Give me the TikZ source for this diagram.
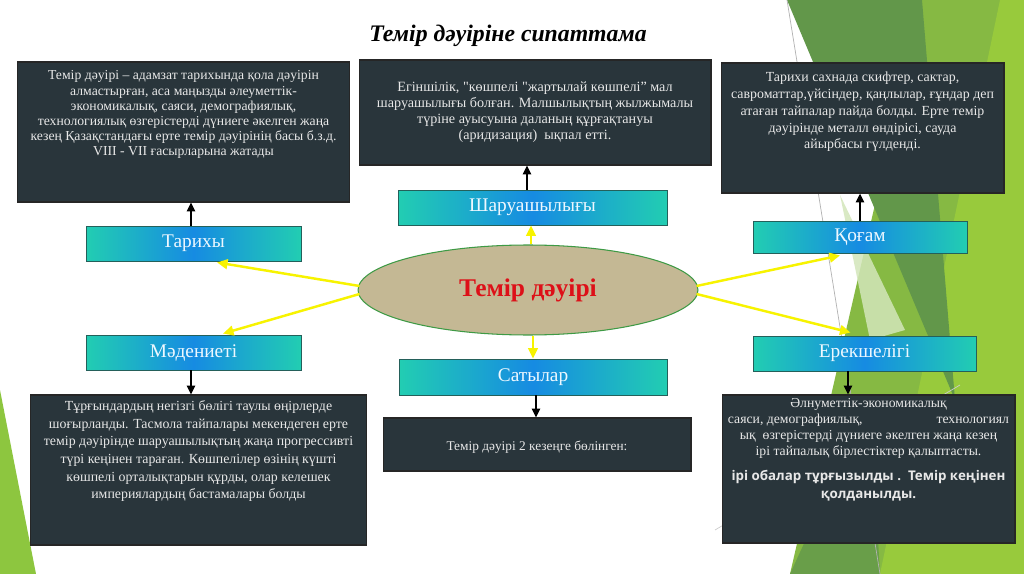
\documentclass[tikz,border=0pt]{standalone}
\usepackage{fontspec}
\setmainfont{Liberation Serif}
\newfontfamily\rawserif{Liberation Serif}
\newfontfamily\osans{Open Sans}
\usetikzlibrary{arrows.meta,calc,shapes.geometric}
\definecolor{boxdark}{HTML}{29353B}
\definecolor{boxtxt}{HTML}{E8E8E8}
\definecolor{tealc}{HTML}{22CDB2}
\definecolor{bluec}{HTML}{168BE2}
\definecolor{cyanborder}{HTML}{24605A}
\definecolor{cyantxt}{HTML}{EEF8FF}
\definecolor{ellfill}{HTML}{C4B894}
\definecolor{ellborder}{HTML}{3E9A45}
\definecolor{redtxt}{HTML}{DD1018}
\definecolor{yel}{HTML}{F7F300}
\definecolor{gdark}{HTML}{62974A}
\definecolor{gmid}{HTML}{86B943}
\definecolor{gbright}{HTML}{98CA3C}
\definecolor{gpale}{HTML}{D3E6BA}
\definecolor{gleft}{HTML}{8DC63F}
\tikzset{
  darkbox/.style={draw=black!85, line width=0.6pt, fill=boxdark, inner sep=0pt},
  boxtext/.style={text=boxtxt, align=center, inner sep=0pt},
  cyanbox/.style={draw=cyanborder, line width=0.5pt, left color=tealc, right color=tealc, middle color=bluec,
    text=cyantxt, font=\fontsize{11}{13}\selectfont, inner sep=0pt},
  blackarrow/.style={draw=black, line width=1.2pt, -{Triangle[length=5pt,width=4.5pt]}},
  yelarrow/.style={draw=yel, line width=1.4pt, -{Triangle[length=6pt,width=5.5pt]}},
}
\begin{document}
\begin{tikzpicture}[x=0.02cm,y=-0.02cm]
\useasboundingbox (0,0) rectangle (1024,574);
\fill[white] (0,0) rectangle (1024,574);
% background decoration
\fill[gmid] (922,0) -- (1024,0) -- (1024,574) -- (790,574) -- cycle;
\fill[gbright] (1000,0) -- (1024,0) -- (1024,574) -- (880,574) -- cycle;
\fill[gdark] (787,0) -- (922,0) -- (955,400) -- cycle;
\fill[gpale, opacity=0.85] (840,195) -- (905,330) -- (870,340) -- cycle;
\fill[gdark!80!gmid] (790,574) -- (870,400) -- (880,574) -- cycle;
\draw[black!30, line width=0.4pt] (787,0) -- (880,574);
\draw[black!20, line width=0.4pt] (715,530) -- (960,385);
\fill[gleft] (0,390) -- (0,574) -- (36,574) -- cycle;
% title
\node[font=\fontsize{13.5}{16}\selectfont\bfseries\itshape] (title) at (508,36) {Темір дәуіріне сипаттама};
% dark boxes
\node[darkbox, minimum width=6.66cm, minimum height=2.8cm] (tl) at (183.5,132) {};
\node[boxtext, anchor=north, font=\fontsize{7.8}{8.6}\selectfont] (tlt) at ($(tl.north)+(0,9)$)
 {Темір дәуірі – адамзат тарихында қола дәуірін\\алмастырған, аса маңызды әлеуметтік-\\экономикалық, саяси, демографиялық,\\технологиялық өзгерістерді дүниеге әкелген жаңа\\кезең Қазақстандағы ерте темір дәуірінің басы б.з.д.\\VIII - VII ғасырларына жатады};
\node[darkbox, minimum width=7.04cm, minimum height=2.1cm] (tm) at (535,112.5) {};
\node[boxtext, font=\rawserif\fontsize{8.05}{9.1}\selectfont] (tmt) at (tm.center)
 {Егіншілік, "көшпелі "жартылай көшпелі” мал\\шаруашылығы болған. Малшылықтың жылжымалы\\түріне ауысуына даланың құрғақтануы\\(аридизация)\ \ ықпал етті.};
\node[darkbox, minimum width=5.66cm, minimum height=2.6cm] (tr) at (862.5,128) {};
\node[boxtext, anchor=north, font=\fontsize{7.9}{9.6}\selectfont] (trt) at ($(tr.north)+(0,9)$)
 {Тарихи сахнада скифтер, сактар,\\савроматтар,үйсіндер, қаңлылар, ғұндар деп\\атаған тайпалар пайда болды. Ерте темір\\дәуірінде металл өндірісі, сауда\\айырбасы гүлденді.};
\node[darkbox, minimum width=6.74cm, minimum height=3.0cm] (bl) at (198.5,470) {};
\node[boxtext, anchor=north, font=\fontsize{7.9}{10}\selectfont] (blt) at ($(bl.north)+(0,6)$)
 {Тұрғындардың негізгі бөлігі таулы өңірлерде\\шоғырланды. Тасмола тайпалары мекендеген ерте\\темір дәуірінде шаруашылықтың жаңа прогрессивті\\түрі кеңінен тараған. Көшпелілер өзінің күшті\\көшпелі орталықтарын құрды, олар келешек\\империялардың бастамалары болды};
\node[darkbox, minimum width=6.16cm, minimum height=1.06cm] (bm) at (537,444.5) {};
\node[boxtext, font=\fontsize{7.6}{8.5}\selectfont] (bmt) at ($(bm.center)+(0,3)$) {Темір дәуірі 2 кезеңге бөлінген:};
\node[darkbox, minimum width=5.86cm, minimum height=2.96cm] (br) at (868.5,469) {};
\node[boxtext, anchor=north, font=\fontsize{7.8}{9.1}\selectfont] (brt) at ($(br.north)+(0,4)$)
 {Әлнуметтік-экономикалық\\\hbox to 160pt{саяси, демографиялық,\hfill технологиял}\\ық\ \ өзгерістерді дүниеге әкелген жаңа кезең\\ірі тайпалық бірлестіктер қалыптасты.\\[5pt]
 {\osans\bfseries\fontsize{7.6}{9.6}\selectfont ірі обалар тұрғызылды .\ \ Темір кеңінен}\\[1pt]
 {\osans\bfseries\fontsize{7.6}{9.6}\selectfont қолданылды.}};
% cyan boxes
\node[cyanbox, minimum width=4.3cm, minimum height=0.7cm] (tar) at (193.5,243.5) {Тарихы};
\node[cyanbox, minimum width=4.3cm, minimum height=0.7cm] (mad) at (193.5,352.5) {Мәдениеті};
\node[cyanbox, minimum width=5.38cm, minimum height=0.7cm] (sha) at (532.5,207.5) {Шаруашылығы};
\node[cyanbox, minimum width=5.36cm, minimum height=0.72cm] (sat) at (533,377) {Сатылар};
\node[cyanbox, minimum width=4.28cm, minimum height=0.64cm] (qog) at (860,237) {Қоғам};
\node[cyanbox, minimum width=4.46cm, minimum height=0.7cm] (ere) at (864.5,353.5) {Ерекшелігі};
% ellipse
\node[ellipse, draw=ellborder, line width=0.6pt, fill=ellfill, minimum width=6.8cm, minimum height=1.8cm,
  text=redtxt, font=\fontsize{14.5}{17}\selectfont\bfseries] (ell) at (528,290) {Темір дәуірі};
% black arrows
\draw[blackarrow] ($(tar.north)+(-2.5,0)$) -- ($(tar.north |- tl.south)+(-2.5,0)$);
\draw[blackarrow] ($(mad.south)+(-2.5,0)$) -- ($(mad.south |- bl.north)+(-2.5,0)$);
\draw[blackarrow] ($(sha.north)+(-5.5,0)$) -- ($(sha.north |- tm.south)+(-5.5,0)$);
\draw[blackarrow] ($(sat.south)+(3,0)$) -- ($(sat.south |- bm.north)+(3,0)$);
\draw[blackarrow] (qog.north) -- (qog.north |- tr.south);
\draw[blackarrow] ($(ere.south)+(-16.5,0)$) -- ($(ere.south |- br.north)+(-16.5,0)$);
% yellow arrows
\draw[yelarrow] ($(ell.west)+(2,-4)$) -- ($(tar.south)+(23.5,1)$);
\draw[yelarrow] ($(ell.west)+(2,4)$) -- ($(mad.north)+(29.5,-1)$);
\draw[yelarrow] ($(ell.north)+(3,0)$) -- ($(sha.south)+(-1.5,0)$);
\draw[yelarrow] ($(ell.south)+(5,0)$) -- (sat.north);
\draw[yelarrow] ($(ell.east)+(-2,-4)$) -- ($(qog.south)+(-20,2)$);
\draw[yelarrow] ($(ell.east)+(-2,4)$) -- ($(ere.north)+(-14,-3)$);
\end{tikzpicture}
\end{document}
